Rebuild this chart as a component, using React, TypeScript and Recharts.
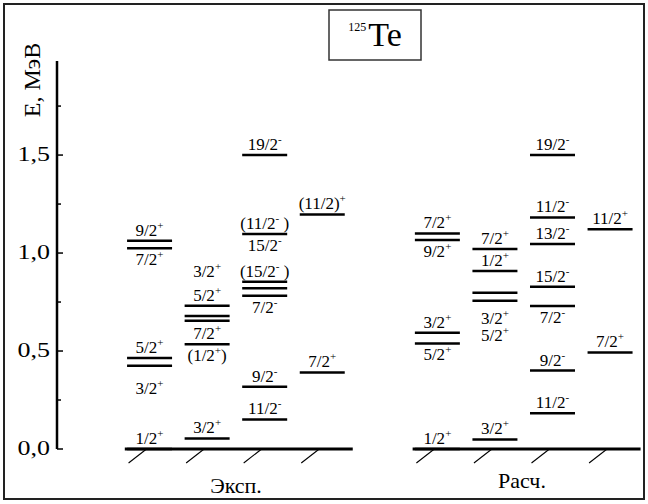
import React from "react";
import {
  ComposedChart,
  Scatter,
  XAxis,
  YAxis,
  ReferenceLine,
  Customized,
} from "recharts";

const FONT = "'Liberation Serif', 'Times New Roman', serif";
const Y_AXIS_W = 57;
const LEVEL_W = 45;

// y axis
const yTicks = [0, 0.25, 0.5, 0.75, 1, 1.25, 1.5, 1.75];
const yTickLabels: Record<string, string> = {
  "0": "0,0",
  "0.5": "0,5",
  "1": "1,0",
  "1.5": "1,5",
};

// columns (slots on x) for the two schemes
const expColumns = [1, 2, 3, 4];
const calcColumns = [6, 7, 8, 9];
const groupNames = ["Эксп.", "Расч."];

// level energies, MeV, one list per column
const expEnergies = [
  [0, 0.425, 0.465, 1.024, 1.063],
  [0.054, 0.535, 0.655, 0.679, 0.731],
  [0.151, 0.318, 0.782, 0.82, 0.854, 1.097, 1.5],
  [0.391, 1.197],
];
const calcEnergies = [
  [0, 0.539, 0.593, 1.066, 1.1],
  [0.049, 0.757, 0.797, 0.908, 1.02],
  [0.182, 0.4, 0.73, 0.828, 1.046, 1.182, 1.5],
  [0.493, 1.122],
];

// spin labels: [column, energy of the level, text, row (+ above / - below)]
const expLabels: [number, number, string, number][] = [
  [1, 0, "1/2+", 1],
  [1, 0.425, "3/2+", -1.6],
  [1, 0.465, "5/2+", 1],
  [1, 1.024, "7/2+", -1],
  [1, 1.063, "9/2+", 1],
  [2, 0.054, "3/2+", 1],
  [2, 0.535, "(1/2+)", -1],
  [2, 0.535, "7/2+", 1],
  [2, 0.731, "5/2+", 1],
  [2, 0.731, "3/2+", 2.3],
  [3, 0.151, "11/2-", 1],
  [3, 0.318, "9/2-", 1],
  [3, 0.782, "7/2-", -1],
  [3, 0.854, "(15/2- )", 1],
  [3, 1.097, "15/2-", -1],
  [3, 1.097, "(11/2- )", 1],
  [3, 1.5, "19/2-", 1],
  [4, 0.391, "7/2+", 1],
  [4, 1.197, "(11/2)+", 1],
];
const calcLabels: [number, number, string, number][] = [
  [6, 0, "1/2+", 1],
  [6, 0.539, "5/2+", -1],
  [6, 0.593, "3/2+", 1],
  [6, 1.066, "9/2+", -1],
  [6, 1.1, "7/2+", 1],
  [7, 0.049, "3/2+", 1],
  [7, 0.757, "3/2+", -1.33],
  [7, 0.757, "5/2+", -2.3],
  [7, 0.908, "1/2+", 1],
  [7, 1.02, "7/2+", 1],
  [8, 0.182, "11/2-", 1],
  [8, 0.4, "9/2-", 1],
  [8, 0.73, "7/2-", -1],
  [8, 0.828, "15/2-", 1],
  [8, 1.046, "13/2-", 1],
  [8, 1.182, "11/2-", 1],
  [8, 1.5, "19/2-", 1],
  [9, 0.493, "7/2+", 1],
  [9, 1.122, "11/2+", 1],
];

const levelData = [
  ...expEnergies.flatMap((es, i) => es.map((e) => ({ x: expColumns[i], y: e }))),
  ...calcEnergies.flatMap((es, i) => es.map((e) => ({ x: calcColumns[i], y: e }))),
];
const labelData = [...expLabels, ...calcLabels].map(([col, e, text, row]) => ({
  x: col,
  y: e,
  text,
  row,
}));
const hatchData = [...expColumns, ...calcColumns].map((c) => ({ x: c, y: 0 }));

function SpinText({ x, y, text }: { x: number; y: number; text: string }) {
  const segs: { t: string; sup: boolean }[] = [];
  for (const ch of text) {
    const sup = ch === "+" || ch === "-";
    const last = segs[segs.length - 1];
    if (last && last.sup === sup) last.t += ch;
    else segs.push({ t: ch, sup });
  }
  return (
    <text x={x} y={y} textAnchor="middle" style={{ fontFamily: FONT, fontSize: 17 }} fill="#000">
      {segs.map((s, i) => (
        <tspan
          key={i}
          style={{ fontSize: s.sup ? 11 : 17 }}
          dy={s.sup ? -7 : i > 0 ? 7 : 0}
        >
          {s.t}
        </tspan>
      ))}
    </text>
  );
}

const LevelShape = (props: any) => {
  const { cx, cy } = props;
  return (
    <line
      x1={cx - LEVEL_W / 2}
      x2={cx + LEVEL_W / 2}
      y1={cy}
      y2={cy}
      stroke="#000"
      strokeWidth={2.5}
    />
  );
};

const LabelShape = (props: any) => {
  const { cx, cy, payload } = props;
  const row = payload.row;
  const base = row > 0 ? cy - 5 - (row - 1) * 18 : cy + 17 + (-row - 1) * 18;
  return <SpinText x={cx} y={base} text={payload.text} />;
};

const HatchShape = (props: any) => {
  const { cx, cy } = props;
  return (
    <line x1={cx - 21} y1={cy + 14} x2={cx - 3} y2={cy} stroke="#000" strokeWidth={1.1} />
  );
};

const YTick = (props: any) => {
  const { y, payload } = props;
  const label = yTickLabels[String(payload.value)];
  return (
    <g>
      <line
        x1={Y_AXIS_W}
        x2={Y_AXIS_W + (label ? 6 : 4)}
        y1={y}
        y2={y}
        stroke="#000"
        strokeWidth={1.5}
      />
      {label && (
        <g transform={`translate(${Y_AXIS_W - 7},${y + 6}) scale(1.3,1)`}>
          <text x={0} y={0} textAnchor="end" style={{ fontFamily: FONT, fontSize: 20 }} fill="#000">
            {label}
          </text>
        </g>
      )}
    </g>
  );
};

const Decor = () => (
  <g style={{ fontFamily: FONT }} fill="#000">
    <rect x={4} y={4} width={640} height={495} fill="none" stroke="#222" strokeWidth={2} />
    <rect x={329} y={10} width={92} height={50} fill="none" stroke="#333" strokeWidth={1.5} />
    <text x={375} y={46} textAnchor="middle" style={{ fontFamily: FONT }}>
      <tspan style={{ fontSize: 12 }} dy={-15}>125</tspan>
      <tspan style={{ fontSize: 34 }} dy={15} dx={2}>Te</tspan>
    </text>
    <text
      transform="translate(40,80) rotate(-90)"
      textAnchor="middle"
      style={{ fontFamily: FONT, fontSize: 24 }}
    >
      E, МэВ
    </text>
    <text x={236} y={493} textAnchor="middle" style={{ fontFamily: FONT, fontSize: 22 }}>
      {groupNames[0]}
    </text>
    <text x={522} y={488} textAnchor="middle" style={{ fontFamily: FONT, fontSize: 22 }}>
      {groupNames[1]}
    </text>
  </g>
);

export default function App() {
  return (
    <div style={{ position: "absolute", left: 0, top: 0, width: 648, height: 504, background: "#fff" }}>
      <ComposedChart
        width={648}
        height={504}
        margin={{ top: 61, right: 3, bottom: 55, left: 0 }}
      >
        <XAxis type="number" dataKey="x" domain={[-0.608, 9.607]} hide />
        <YAxis
          type="number"
          dataKey="y"
          domain={[0, 1.98]}
          ticks={yTicks}
          width={Y_AXIS_W}
          tickLine={false}
          tick={<YTick />}
          axisLine={{ stroke: "#000", strokeWidth: 2.5 }}
          interval={0}
        />
        <ReferenceLine
          segment={[
            { x: expColumns[0] - 0.43, y: 0 },
            { x: expColumns[3] + 0.53, y: 0 },
          ]}
          stroke="#000"
          strokeWidth={3}
        />
        <ReferenceLine
          segment={[
            { x: calcColumns[0] - 0.43, y: 0 },
            { x: calcColumns[3] + 0.53, y: 0 },
          ]}
          stroke="#000"
          strokeWidth={3}
        />
        <Scatter data={hatchData} shape={HatchShape} isAnimationActive={false} />
        <Scatter data={levelData} shape={LevelShape} isAnimationActive={false} />
        <Scatter data={labelData} shape={LabelShape} isAnimationActive={false} />
        <Customized component={Decor} />
      </ComposedChart>
    </div>
  );
}
